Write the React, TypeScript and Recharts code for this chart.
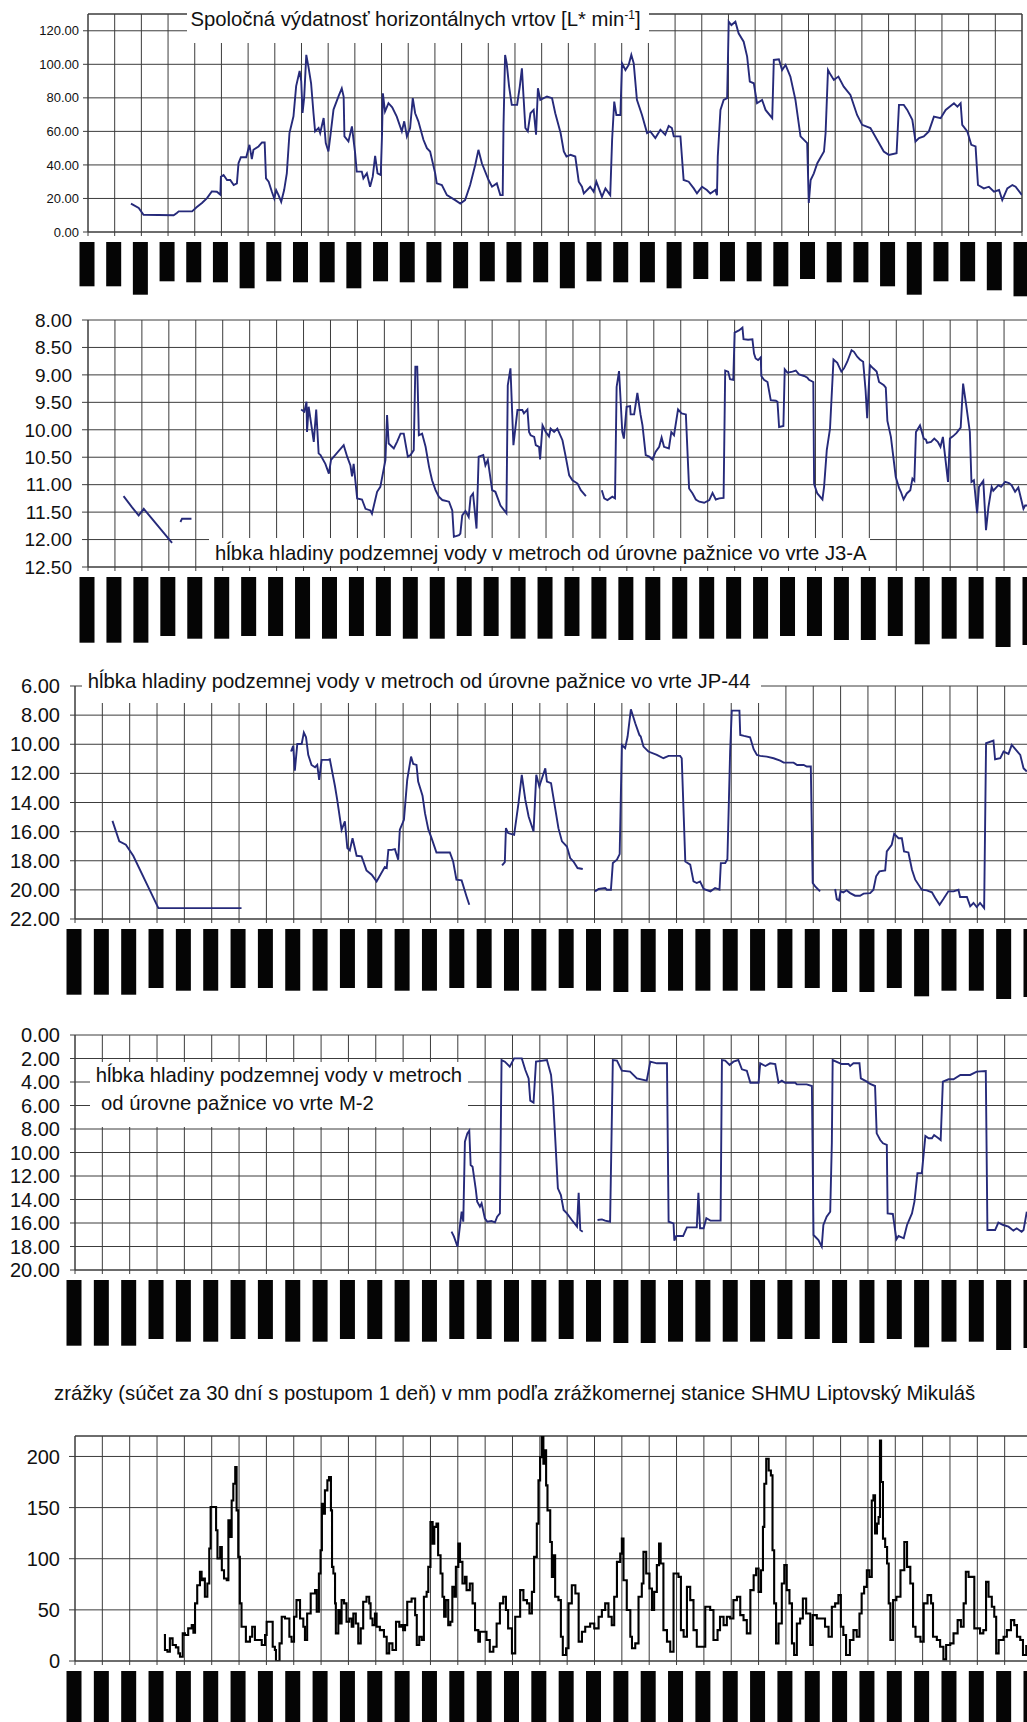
import React from "react";
import { LineChart, Line, XAxis, YAxis, CartesianGrid, ReferenceLine } from "recharts";

const FONT = '"Liberation Sans", Arial, Helvetica, sans-serif';
const GRID = "#3c3c3c";
const NAVY = "#262a7a";

type Pt = [number, number | null];

// month index ticks (vertical grid lines)
const monthTicks = [0, 1, 2, 3, 4, 5, 6, 7, 8, 9, 10, 11, 12, 13, 14, 15, 16, 17, 18, 19, 20, 21, 22, 23, 24, 25, 26, 27, 28, 29, 30, 31, 32, 33, 34, 35];

// y tick values per panel
const flowTicks = [0, 20, 40, 60, 80, 100, 120];
const j3aTicks = [8, 8.5, 9, 9.5, 10, 10.5, 11, 11.5, 12, 12.5];
const jp44Ticks = [6, 8, 10, 12, 14, 16, 18, 20, 22];
const m2Ticks = [0, 2, 4, 6, 8, 10, 12, 14, 16, 18, 20];
const rainTicks = [0, 50, 100, 150, 200];

// lengths of the (blacked-out) rotated month labels
const labelLenTop = [44.3, 44.3, 52.7, 39.3, 40.3, 40.3, 46.3, 39.3, 40.3, 40.3, 46.3, 39.3, 40.3, 40.3, 46.3, 39.3, 40.3, 40.3, 46.3, 39.3, 40.3, 40.3, 46.3, 37, 39.3, 39.3, 44.3, 37, 40.3, 40.3, 44.3, 52.7, 39.3, 39.3, 48.3, 54.3];
const labelLenLow = [65.7, 65.7, 65.7, 59, 61.7, 61.7, 59, 59, 61.7, 61.7, 59, 59, 61.7, 61.7, 59, 59, 61.7, 61.7, 59, 61.7, 63, 63, 61.7, 61.7, 61.7, 61.7, 59, 59, 63, 63, 59, 67.3, 61.7, 61.7, 70.7, 68];

// Spoločná výdatnosť horizontálnych vrtov [L/min]  (x = month index)
const flow: Pt[] = [[1.61,16.9],[1.9,14.3],[2.08,10.3],[3.21,10],[3.33,11.3],[3.4,12.3],[3.9,12.3],[4.08,14.9],[4.27,17.3],[4.46,20.2],[4.64,24.2],[4.83,24],[4.96,22.2],[4.98,33],[5.08,34],[5.21,31],[5.33,31],[5.46,28],[5.58,29],[5.64,41],[5.73,44.6],[5.93,44.6],[6.05,52],[6.14,43.5],[6.2,49],[6.39,51],[6.52,53.4],[6.62,53.4],[6.67,32],[6.77,30],[6.89,24],[6.98,20],[7.05,25],[7.14,22],[7.24,18],[7.35,25],[7.45,35],[7.55,59],[7.7,69],[7.8,87],[7.93,96],[7.99,90],[8.04,71],[8.1,80],[8.18,105.6],[8.26,98.6],[8.36,88.7],[8.45,70.8],[8.51,60],[8.64,62],[8.7,59],[8.83,68],[8.91,53],[9.01,48],[9.08,57],[9.2,73],[9.39,81],[9.51,85.7],[9.58,80.8],[9.61,57],[9.76,54],[9.89,63],[10.01,47],[10.07,36],[10.26,36],[10.32,32],[10.45,35],[10.57,27],[10.67,33],[10.76,45.4],[10.85,35],[10.97,34],[11.02,59],[11.05,82.7],[11.13,71.8],[11.26,76.8],[11.4,74.4],[11.57,68.8],[11.76,60],[11.85,66],[11.95,57],[12.07,62],[12.17,79.8],[12.26,70.8],[12.38,66],[12.57,55],[12.7,50],[12.82,48],[13.01,35],[13.07,29],[13.26,28],[13.45,22],[13.76,19],[13.95,17],[14.13,19],[14.32,28],[14.51,40],[14.63,49],[14.76,41],[15.01,31],[15.14,27],[15.32,29],[15.45,22],[15.54,22],[15.57,63],[15.63,105.6],[15.69,100.6],[15.78,86.7],[15.88,75.8],[16.08,75.8],[16.18,86.7],[16.26,97.6],[16.32,80.8],[16.39,62],[16.48,60],[16.58,70.8],[16.7,72.8],[16.79,58],[16.86,85.7],[16.95,78.8],[17.2,80.8],[17.39,79.8],[17.51,70.8],[17.71,59],[17.83,48],[17.93,45],[18.08,46],[18.26,45],[18.39,30],[18.51,27],[18.58,23],[18.82,27],[18.95,24],[19.05,30],[19.26,21],[19.39,26],[19.57,22],[19.64,55],[19.72,77.8],[19.8,69.8],[19.95,69.8],[20.01,100.6],[20.14,96.6],[20.26,99.6],[20.36,105.6],[20.45,100.6],[20.57,78.8],[20.76,69.8],[20.95,59],[21.07,60],[21.26,56],[21.45,61],[21.63,58],[21.76,63.3],[21.88,62],[21.95,57],[22.2,57],[22.32,31],[22.51,30],[22.7,26],[22.82,23],[23.01,27],[23.19,25],[23.32,23],[23.51,25],[23.57,22],[23.6,45],[23.7,72.8],[23.82,78.8],[23.95,79.8],[24.01,125.4],[24.11,123.4],[24.26,125.4],[24.38,118.5],[24.57,113.5],[24.7,104.6],[24.8,89.7],[24.95,88.7],[25.07,76.8],[25.26,78.8],[25.39,72.8],[25.64,67.9],[25.7,102.6],[25.89,103],[26.01,96.6],[26.14,99.6],[26.32,92.7],[26.51,78.8],[26.7,57],[26.95,53],[27.01,17.3],[27.08,31],[27.2,35],[27.33,41],[27.58,48],[27.64,59],[27.73,96.6],[27.83,93.7],[27.95,90.7],[28.12,92.7],[28.32,86.7],[28.57,81.7],[28.82,69.8],[29.01,63.9],[29.32,62],[29.57,55],[29.82,48],[30.01,46],[30.3,47],[30.39,75.8],[30.57,75.8],[30.7,72.8],[30.89,66.9],[31.01,54],[31.14,56],[31.32,57],[31.51,60],[31.7,68.8],[31.95,67.9],[32.14,72.8],[32.45,76.8],[32.58,74.8],[32.7,76.8],[32.76,63.9],[32.95,60],[33.1,52],[33.26,51],[33.35,28],[33.57,26],[33.76,27],[33.95,24],[34.14,25],[34.26,19],[34.45,26],[34.64,28],[34.76,27],[35,22]];

// J3-A depth [m]
const j3a: Pt[] = [[1.32,11.21],[1.63,11.41],[1.88,11.56],[2.07,11.44],[3.12,12.06],[3.3,null],[3.43,11.68],[3.49,11.62],[3.84,11.62],[5,null],[7.91,9.63],[8.03,9.67],[8.11,9.49],[8.13,10.04],[8.19,9.58],[8.38,10.22],[8.47,9.63],[8.56,10.43],[8.63,10.46],[8.81,10.62],[8.94,10.8],[9.02,10.55],[9.49,10.28],[9.62,10.49],[9.74,10.65],[9.8,10.85],[9.86,10.62],[9.99,11.25],[10.17,11.27],[10.3,11.44],[10.48,11.47],[10.54,11.53],[10.73,11.13],[10.85,11.04],[11.04,10.55],[11.1,9.73],[11.16,10.25],[11.35,10.34],[11.47,10.22],[11.6,10.07],[11.72,10.07],[11.87,10.49],[11.97,10.46],[12.09,10.37],[12.15,8.85],[12.22,8.85],[12.28,10.1],[12.4,10.07],[12.53,10.31],[12.66,10.68],[12.77,10.92],[12.9,11.1],[13.02,11.22],[13.15,11.28],[13.4,11.31],[13.52,11.47],[13.58,11.95],[13.77,11.92],[13.82,11.89],[13.89,11.56],[14.01,11.48],[14.13,11.59],[14.2,11.22],[14.29,11.16],[14.42,11.8],[14.5,10.49],[14.67,10.46],[14.75,10.65],[14.84,10.55],[15,11.1],[15.12,11.13],[15.31,11.38],[15.53,11.52],[15.58,9.19],[15.68,8.88],[15.79,10.28],[15.94,9.64],[16.12,9.64],[16.18,9.7],[16.31,9.63],[16.37,10.04],[16.43,10.1],[16.56,10.13],[16.62,10.28],[16.74,10.31],[16.78,10.54],[16.87,9.92],[16.99,10.04],[17.11,10.12],[17.17,9.98],[17.3,10.04],[17.42,9.98],[17.61,10.19],[17.73,10.49],[17.86,10.83],[17.98,10.92],[18.17,10.98],[18.29,11.1],[18.48,11.21],[18.8,null],[19.07,11.1],[19.16,11.25],[19.28,11.28],[19.46,11.22],[19.56,11.25],[19.62,9.22],[19.71,8.93],[19.83,10.04],[19.89,10.16],[19.99,9.58],[20.12,9.57],[20.14,9.72],[20.27,9.72],[20.39,9.33],[20.51,9.73],[20.58,9.92],[20.7,10.46],[20.83,10.49],[20.95,10.54],[21.07,10.4],[21.2,10.31],[21.29,10.14],[21.38,10.31],[21.56,10.34],[21.65,10.04],[21.75,10.1],[21.9,9.63],[22.03,9.7],[22.19,9.72],[22.31,11.07],[22.44,11.16],[22.56,11.27],[22.69,11.31],[22.87,11.33],[23.06,11.28],[23.18,11.15],[23.3,11.27],[23.43,11.25],[23.59,11.24],[23.65,8.92],[23.76,8.94],[23.83,9.08],[23.95,9.09],[24,8.23],[24.16,8.19],[24.29,8.14],[24.33,8.35],[24.5,8.36],[24.66,8.35],[24.72,8.61],[24.78,8.7],[24.87,8.73],[24.97,8.68],[24.99,9.02],[25.09,9.09],[25.22,9.13],[25.34,9.46],[25.53,9.47],[25.59,9.49],[25.65,9.95],[25.81,9.93],[25.86,8.9],[25.96,8.96],[26.15,8.94],[26.27,8.92],[26.39,8.99],[26.58,9.02],[26.7,9.05],[26.76,9.09],[26.92,9.13],[26.95,10.99],[27.07,11.16],[27.26,11.27],[27.32,11.04],[27.42,10.37],[27.54,9.98],[27.67,8.72],[27.81,8.78],[27.96,8.94],[28.06,8.88],[28.18,8.76],[28.34,8.55],[28.43,8.58],[28.55,8.67],[28.65,8.72],[28.77,8.76],[28.86,9.28],[28.92,9.79],[29.02,8.82],[29.14,8.88],[29.27,8.94],[29.36,9.13],[29.54,9.19],[29.61,9.23],[29.67,9.84],[29.8,10.13],[29.98,10.86],[30.11,11.07],[30.17,11.13],[30.27,11.27],[30.39,11.16],[30.52,11.1],[30.6,10.89],[30.67,10.93],[30.73,10.04],[30.88,9.92],[31.02,10.16],[31.1,10.18],[31.14,10.24],[31.29,10.22],[31.41,10.16],[31.54,10.22],[31.64,10.31],[31.73,10.13],[31.92,10.95],[31.99,10.16],[32.1,10.12],[32.23,10.06],[32.39,9.96],[32.48,9.16],[32.6,9.57],[32.73,10.04],[32.79,10.95],[32.88,10.92],[33,11.52],[33.07,11.04],[33.23,10.93],[33.33,11.83],[33.42,11.41],[33.54,11.04],[33.6,11.11],[33.79,11.01],[33.89,11.04],[34.04,10.95],[34.18,10.97],[34.28,11.01],[34.41,11.13],[34.53,11.05],[34.72,11.44],[34.78,11.38],[34.91,11.38]];

// JP-44 depth [m]
const jp44: Pt[] = [[1.37,15.26],[1.62,16.67],[1.86,16.9],[2.13,17.66],[3.05,21.25],[6.09,21.25],[7,null],[7.9,10.5],[7.98,10.11],[8.04,11.81],[8.13,9.98],[8.29,9.98],[8.37,9.2],[8.45,9.52],[8.53,10.73],[8.65,11.42],[8.78,11.58],[8.86,11.42],[8.93,12.45],[9.02,11.07],[9.26,11.07],[9.32,11.03],[9.51,12.9],[9.59,13.82],[9.75,15.87],[9.87,15.3],[9.96,17.13],[10.05,17.29],[10.15,16.45],[10.3,17.66],[10.48,17.7],[10.66,18.66],[10.85,18.96],[11.03,19.42],[11.33,18.43],[11.4,18.5],[11.46,17.25],[11.58,17.25],[11.7,17.2],[11.82,17.93],[11.88,15.87],[12.03,15.19],[12.15,12.45],[12.29,10.85],[12.37,11.35],[12.49,11.42],[12.55,12.56],[12.71,13.54],[12.8,14.73],[12.92,15.83],[13.04,16.45],[13.22,17.43],[13.71,17.43],[13.83,18.05],[13.95,19.3],[14.14,19.35],[14.32,20.45],[14.42,21.02],[15,null],[15.62,18.32],[15.72,18.09],[15.76,15.76],[15.84,16.1],[16.06,16.22],[16.22,14.05],[16.34,12.1],[16.47,13.82],[16.59,14.96],[16.77,15.99],[16.87,12.1],[16.98,12.9],[17.2,11.65],[17.26,12.56],[17.41,12.67],[17.56,14.39],[17.68,15.76],[17.81,16.67],[17.99,17.02],[18.11,17.82],[18.23,18.05],[18.38,18.5],[18.57,18.57],[18.8,null],[19.02,20.1],[19.15,19.94],[19.39,19.87],[19.45,19.99],[19.6,19.99],[19.67,18.16],[19.82,17.93],[19.92,17.54],[20,10.05],[20.12,10.27],[20.21,9.47],[20.33,7.6],[20.49,8.56],[20.64,9.36],[20.69,9.47],[20.79,10.16],[20.97,10.5],[21.28,10.73],[21.52,10.96],[21.71,10.8],[22.13,10.8],[22.19,10.96],[22.32,18.05],[22.5,18.27],[22.62,19.42],[22.74,19.53],[22.86,19.42],[22.99,19.94],[23.24,20.1],[23.41,19.87],[23.57,19.99],[23.62,18.16],[23.78,18.16],[23.86,17.89],[23.96,10.5],[24.02,7.69],[24.3,7.69],[24.33,9.36],[24.47,9.43],[24.69,9.52],[24.82,10.34],[24.94,10.73],[25.06,10.8],[25.3,10.85],[25.55,10.96],[25.79,11.12],[25.92,11.26],[26.28,11.26],[26.41,11.42],[26.65,11.42],[26.76,11.53],[26.91,11.53],[26.98,19.53],[27.07,19.76],[27.25,20.1],[27.5,null],[27.8,19.94],[27.86,20.63],[27.94,20.72],[28,20.1],[28.1,20.17],[28.22,20.03],[28.35,20.22],[28.53,20.4],[28.71,20.4],[28.84,20.26],[29.08,20.22],[29.2,19.99],[29.3,19.07],[29.42,18.73],[29.63,18.66],[29.69,17.36],[29.87,16.9],[29.96,16.15],[30.12,16.45],[30.24,16.45],[30.32,17.36],[30.48,17.43],[30.61,18.62],[30.73,19.3],[30.97,19.99],[31.15,20.03],[31.34,20.17],[31.46,20.56],[31.62,21.02],[31.76,20.63],[31.94,20.1],[32.13,20.1],[32.31,19.99],[32.37,20.49],[32.62,20.49],[32.74,21.13],[32.86,20.9],[32.98,21.18],[33.1,20.9],[33.25,21.25],[33.32,9.93],[33.59,9.75],[33.65,11.03],[33.84,10.96],[33.96,10.5],[34.14,10.66],[34.26,10.05],[34.39,10.34],[34.57,10.73],[34.69,11.65],[34.81,11.87]];

// M-2 depth [m]
const m2: Pt[] = [[13.77,16.74],[13.86,17.16],[13.99,18.01],[14.14,15.04],[14.2,15.89],[14.26,9.08],[14.35,8.37],[14.42,8.14],[14.47,11.06],[14.54,11.21],[14.66,13.19],[14.71,14.18],[14.81,14.61],[14.87,14.33],[14.99,15.6],[15.08,15.89],[15.23,15.83],[15.36,15.94],[15.44,15.46],[15.54,15.18],[15.6,2.13],[15.72,2.27],[15.9,2.7],[16.06,1.99],[16.34,1.99],[16.47,2.98],[16.59,3.69],[16.65,5.59],[16.77,5.76],[16.86,2.27],[17.26,2.13],[17.41,3.4],[17.48,5.25],[17.56,8.65],[17.66,13.05],[17.77,13.62],[17.87,14.89],[17.99,15.18],[18.17,15.74],[18.36,16.31],[18.42,13.42],[18.48,16.6],[18.57,16.74],[18.85,null],[19.11,15.74],[19.27,15.69],[19.39,15.8],[19.57,15.89],[19.67,2.13],[19.82,2.18],[20,3.04],[20.3,3.12],[20.55,3.69],[20.91,3.89],[21.04,2.27],[21.28,2.41],[21.65,2.41],[21.71,15.89],[21.89,16.03],[21.92,17.5],[21.99,17.11],[22.24,17.11],[22.38,16.37],[22.74,16.37],[22.8,13.42],[22.86,16.45],[22.99,16.45],[23.09,15.6],[23.24,15.8],[23.61,15.8],[23.66,2.13],[23.78,2.18],[23.94,2.55],[24.08,2.27],[24.26,2.13],[24.39,2.92],[24.57,3.04],[24.7,4.06],[25,4.06],[25.06,2.41],[25.25,2.64],[25.42,2.41],[25.61,2.47],[25.73,4.06],[25.85,3.89],[25.97,4.06],[26.34,4.06],[26.4,4.2],[26.76,4.2],[26.95,4.34],[27.01,17.02],[27.19,17.45],[27.31,18.01],[27.37,16.17],[27.49,15.46],[27.62,15.04],[27.68,9.16],[27.71,2.13],[27.92,2.35],[28.04,2.47],[28.29,2.47],[28.35,2.64],[28.47,2.41],[28.69,2.41],[28.74,3.69],[28.96,3.97],[29.08,4.17],[29.26,4.34],[29.32,8.37],[29.45,8.94],[29.55,9.22],[29.69,9.36],[29.72,15.18],[29.91,15.23],[30.04,17.39],[30.12,17.11],[30.31,17.3],[30.43,16.17],[30.61,15.18],[30.7,14.18],[30.81,11.77],[30.97,11.77],[31.1,8.6],[31.22,8.79],[31.34,8.79],[31.42,8.51],[31.58,8.79],[31.66,8.94],[31.74,3.97],[31.95,3.77],[32.13,3.77],[32.38,3.4],[32.74,3.4],[32.98,3.12],[33.31,3.06],[33.37,16.6],[33.65,16.6],[33.77,15.97],[33.95,16.17],[34.14,16.31],[34.32,16.65],[34.44,16.45],[34.62,16.74],[34.69,16.6],[34.81,15.04]];

// 30-day precipitation sum [mm]
const rain: Pt[] = [[3.25,25.4],[3.29,10.7],[3.38,9.1],[3.47,22.1],[3.57,15.6],[3.69,13.3],[3.78,7.5],[3.84,4.2],[3.94,27],[4.02,25.4],[4.14,31.9],[4.27,35.1],[4.33,27.6],[4.39,56.3],[4.47,74.1],[4.57,87.2],[4.63,79],[4.69,80.7],[4.75,62.8],[4.84,75.8],[4.91,110],[4.96,150.6],[5.08,150.6],[5.16,127.8],[5.21,100.2],[5.31,111.5],[5.37,88.8],[5.45,80.7],[5.55,79],[5.61,137.6],[5.67,121.3],[5.73,157],[5.79,173.3],[5.86,189.6],[5.91,147.3],[5.97,101.8],[6.03,56.3],[6.09,33.5],[6.22,33.5],[6.25,18.9],[6.4,23.7],[6.48,33.5],[6.58,20.5],[6.83,15.6],[6.95,25.4],[7.01,38.4],[7.19,38.4],[7.23,14],[7.31,10.7],[7.35,0],[7.44,0],[7.48,17.2],[7.56,43.3],[7.68,41.6],[7.84,23.7],[7.92,18.9],[8.01,43.3],[8.1,59.5],[8.23,41.6],[8.35,33.5],[8.41,20.5],[8.49,46.5],[8.62,66],[8.78,69.3],[8.84,48.1],[8.92,85.5],[8.98,108.3],[9.03,153.8],[9.08,144],[9.14,166.8],[9.23,176.6],[9.29,179.8],[9.36,147.3],[9.4,92],[9.45,85.5],[9.51,56.3],[9.54,27],[9.63,49.8],[9.69,36.7],[9.75,59.5],[9.84,56.3],[9.93,38.4],[10.03,41.6],[10.12,33.5],[10.18,46.5],[10.27,36.7],[10.36,17.2],[10.45,31.9],[10.54,57.9],[10.66,62.8],[10.76,56.3],[10.81,41.6],[10.88,35.1],[10.97,46.5],[11.03,33.5],[11.15,30.2],[11.3,23.7],[11.4,7.5],[11.49,17.2],[11.61,10.7],[11.74,38.4],[11.86,33.5],[11.94,35.1],[12,30.2],[12.07,35.1],[12.15,57.9],[12.31,61.1],[12.44,44.9],[12.5,15.6],[12.59,23.7],[12.68,20.5],[12.76,62.8],[12.86,67.6],[12.92,92],[13,135.9],[13.08,114.8],[13.14,131.1],[13.22,134.3],[13.28,103.4],[13.37,85.5],[13.44,62.8],[13.5,43.3],[13.56,59.5],[13.65,35.1],[13.73,38.4],[13.8,72.5],[13.88,62.8],[13.93,92],[14.02,114.8],[14.08,96.9],[14.17,75.8],[14.26,82.3],[14.32,69.3],[14.44,75.8],[14.54,56.3],[14.63,30.2],[14.75,18.9],[14.81,28.6],[14.93,28.6],[15.05,20.5],[15.17,9.1],[15.3,14],[15.42,36.7],[15.54,56.3],[15.66,62.8],[15.76,49.8],[15.84,31.9],[15.98,7.5],[16.1,43.3],[16.28,69.3],[16.4,59.5],[16.53,56.3],[16.62,46.5],[16.71,67.6],[16.79,101.8],[16.89,134.3],[16.95,176.6],[17.01,199.3],[17.07,220],[17.13,192.8],[17.2,205.9],[17.23,171.7],[17.28,147.3],[17.38,116.4],[17.44,82.3],[17.5,103.4],[17.56,62.8],[17.68,59.5],[17.77,23.7],[17.84,5.9],[17.96,12.4],[18.05,56.3],[18.17,74.1],[18.3,66],[18.42,18.9],[18.54,28.6],[18.66,33.5],[18.84,36.7],[18.99,31.9],[19.15,43.3],[19.27,49.8],[19.39,56.3],[19.51,43.3],[19.63,35.1],[19.72,62.8],[19.82,96.9],[19.94,105],[20,119.7],[20.06,79],[20.18,49.8],[20.31,23.7],[20.37,12.4],[20.49,17.2],[20.61,62.8],[20.73,75.8],[20.79,106.7],[20.89,85.5],[21.01,70.9],[21.1,49.8],[21.18,67.6],[21.28,93.7],[21.36,114.8],[21.42,95.3],[21.52,30.2],[21.65,18.9],[21.77,9.1],[21.89,85.5],[22.07,82.3],[22.16,30.2],[22.26,23.7],[22.38,72.5],[22.5,59.5],[22.62,30.2],[22.74,14],[22.92,14],[23.05,53],[23.23,49.8],[23.35,20.5],[23.5,30.2],[23.59,43.3],[23.72,35.1],[23.84,43.3],[23.96,41.6],[24.08,59.5],[24.21,62.8],[24.33,44.9],[24.45,40],[24.57,27],[24.7,69.3],[24.82,83.9],[24.91,90.4],[25,67.6],[25.09,88.8],[25.16,131.1],[25.21,173.3],[25.28,197.7],[25.37,186.3],[25.45,181.5],[25.51,108.3],[25.57,56.3],[25.64,17.2],[25.73,36.7],[25.85,75.8],[25.94,93.7],[26.03,69.3],[26.13,56.3],[26.22,17.2],[26.3,5.9],[26.4,36.7],[26.52,41.6],[26.62,61.1],[26.74,46.5],[26.89,15.6],[26.98,44.9],[27.13,41.6],[27.31,41.6],[27.43,33.5],[27.56,23.7],[27.68,53],[27.8,56.3],[27.92,64.4],[28.01,33.5],[28.1,25.4],[28.2,5.9],[28.34,20.5],[28.47,30.2],[28.59,23.7],[28.69,46.5],[28.77,66],[28.86,72.5],[28.96,88.8],[29.05,82.3],[29.14,157],[29.2,162],[29.26,124.6],[29.33,134.3],[29.39,140.8],[29.44,215.6],[29.48,175],[29.55,119.7],[29.63,111.5],[29.7,95.3],[29.76,56.3],[29.82,20.5],[29.92,59.5],[30.04,62.8],[30.19,88.8],[30.33,116.4],[30.43,92],[30.55,75.8],[30.65,33.5],[30.74,23.7],[30.92,18.9],[31.04,56.3],[31.18,64.4],[31.31,56.3],[31.38,23.7],[31.52,20.5],[31.64,14],[31.76,1.6],[31.86,15.6],[32.01,17.2],[32.13,27],[32.28,40],[32.4,33.5],[32.5,56.3],[32.58,87.2],[32.68,82.3],[32.8,82.3],[32.89,31.9],[32.98,31.9],[33.1,27],[33.22,30.2],[33.32,77.4],[33.41,62.8],[33.53,53],[33.62,43.3],[33.69,7.5],[33.78,20.5],[33.96,23.7],[34.08,30.2],[34.23,40],[34.35,35.1],[34.45,23.7],[34.57,20.5],[34.67,5.9],[34.79,15.6]];

interface PanelProps {
  top: number;
  width: number;
  height: number;
  mTop: number;
  mRight: number;
  yWidth: number;
  xHeight: number;
  data: Pt[];
  domain: [number, number];
  yTicks: number[];
  reversed?: boolean;
  decimals: number;
  yFont: number;
  yTickSize: number;
  yTickMargin: number;
  labelLens: number[];
  color: string;
  sw: number;
  step?: boolean;
  topValue?: number;
  rightBorder?: boolean;
}

function Panel(p: PanelProps) {
  const rows = p.data.map(([m, v]) => ({ m, v }));
  const BarTick = (t: any) => {
    const i = Math.round(Number(t?.payload?.value ?? 0));
    const h = p.labelLens[i] ?? 60;
    return <rect x={t.x - 8.5} y={t.y} width={15} height={h} fill="#050505" />;
  };
  return (
    <div style={{ position: "absolute", left: 0, top: p.top }}>
      <LineChart
        width={p.width}
        height={p.height}
        data={rows}
        margin={{ top: p.mTop, right: p.mRight, bottom: 0, left: 0 }}
      >
        <CartesianGrid stroke={GRID} strokeWidth={1} />
        <XAxis
          dataKey="m"
          type="number"
          domain={[0, 35]}
          ticks={monthTicks}
          interval={0}
          height={p.xHeight}
          tick={BarTick}
          tickSize={4}
          tickMargin={6}
          tickLine={{ stroke: GRID }}
          axisLine={{ stroke: GRID }}
          allowDataOverflow
        />
        <YAxis
          type="number"
          domain={p.domain}
          ticks={p.yTicks}
          reversed={p.reversed}
          interval={0}
          width={p.yWidth}
          tickSize={p.yTickSize}
          tickMargin={p.yTickMargin}
          tick={{ fontSize: p.yFont, fill: "#111", fontFamily: FONT }}
          tickFormatter={(v: number) => Number(v).toFixed(p.decimals)}
          tickLine={{ stroke: GRID }}
          axisLine={{ stroke: GRID }}
          allowDataOverflow
        />
        {p.topValue !== undefined && <ReferenceLine y={p.topValue} stroke={GRID} />}
        {p.rightBorder && <ReferenceLine x={35} stroke={GRID} />}
        <Line
          dataKey="v"
          type={p.step ? "stepAfter" : "linear"}
          stroke={p.color}
          strokeWidth={p.sw}
          dot={false}
          activeDot={false}
          isAnimationActive={false}
          connectNulls={false}
        />
      </LineChart>
    </div>
  );
}

const boxStyle = (left: number, top: number, width: number, height: number): React.CSSProperties => ({
  position: "absolute",
  left,
  top,
  width,
  height,
  background: "#fff",
  zIndex: 2,
});

const textStyle = (left: number, top: number): React.CSSProperties => ({
  position: "absolute",
  left,
  top,
  fontSize: 20.3,
  lineHeight: "26px",
  color: "#111",
  fontFamily: FONT,
  whiteSpace: "nowrap",
  zIndex: 3,
});

export default function App() {
  return (
    <div
      style={{
        position: "absolute",
        left: 0,
        top: 0,
        width: 1027,
        height: 1722,
        overflow: "hidden",
        background: "#fff",
        fontFamily: FONT,
      }}
    >
      <Panel top={0} width={1027} height={298} mTop={14} mRight={5} yWidth={88} xHeight={66}
        data={flow} domain={[0, 130]} yTicks={flowTicks} decimals={2} yFont={13} yTickSize={5} yTickMargin={4}
        labelLens={labelLenTop} color={NAVY} sw={1.9} topValue={130} rightBorder />
      <Panel top={300} width={1035} height={347} mTop={20} mRight={4} yWidth={88} xHeight={80}
        data={j3a} domain={[8, 12.5]} yTicks={j3aTicks} reversed decimals={2} yFont={19} yTickSize={6} yTickMargin={10}
        labelLens={labelLenLow} color={NAVY} sw={1.9} />
      <Panel top={660} width={1036} height={339} mTop={26} mRight={4} yWidth={75} xHeight={80}
        data={jp44} domain={[6, 22]} yTicks={jp44Ticks} reversed decimals={2} yFont={20} yTickSize={5} yTickMargin={10}
        labelLens={labelLenLow} color={NAVY} sw={1.9} />
      <Panel top={1010} width={1036} height={340} mTop={25} mRight={4} yWidth={75} xHeight={80}
        data={m2} domain={[0, 20]} yTicks={m2Ticks} reversed decimals={2} yFont={20} yTickSize={5} yTickMargin={10}
        labelLens={labelLenLow} color={NAVY} sw={1.9} />
      <Panel top={1420} width={1036} height={321} mTop={16} mRight={4} yWidth={75} xHeight={80}
        data={rain} domain={[0, 220]} yTicks={rainTicks} decimals={0} yFont={20} yTickSize={6} yTickMargin={9}
        labelLens={labelLenLow} color="#000" sw={2.1} step topValue={220} />

      {/* titles */}
      <div style={boxStyle(187, 2, 462, 41)} />
      <div style={{ ...textStyle(190.5, 5), lineHeight: "28px" }}>
        Spoločná výdatnosť horizontálnych vrtov [L* min<sup style={{ fontSize: 12, verticalAlign: "7px", lineHeight: 0 }}>-1</sup>]
      </div>

      <div style={boxStyle(209, 538, 661, 28)} />
      <div style={textStyle(215, 539.5)}>hĺbka hladiny podzemnej vody v metroch od úrovne pažnice vo vrte J3-A</div>

      <div style={boxStyle(82, 664, 679, 39)} />
      <div style={textStyle(87.7, 668.4)}>hĺbka hladiny podzemnej vody v metroch od úrovne pažnice vo vrte JP-44</div>

      <div style={boxStyle(90, 1062, 378, 65)} />
      <div style={textStyle(95.7, 1061.8)}>hĺbka hladiny podzemnej vody v metroch</div>
      <div style={textStyle(101, 1090.1)}>od úrovne pažnice vo vrte M-2</div>

      <div style={textStyle(54, 1380)}>
        zrážky (súčet za 30 dní s postupom 1 deň) v mm podľa zrážkomernej stanice SHMU Liptovský Mikuláš
      </div>
    </div>
  );
}
